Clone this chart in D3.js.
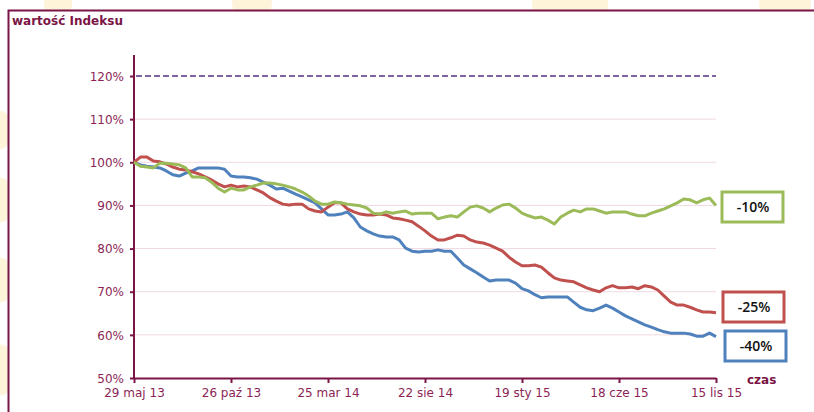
<!DOCTYPE html>
<html>
<head>
<meta charset="utf-8">
<script src="https://cdn.jsdelivr.net/npm/d3@7"></script>
<style>
  body { margin: 0; background: #fff; }
  svg { display: block; }
</style>
</head>
<body>
<svg width="814" height="412"></svg>
<script>
// start date and step of the series (days)
var startDate = new Date(2013, 4, 29),
    stepDays = 10;

var tickLabels = ["29 maj 13", "26 paź 13", "25 mar 14", "22 sie 14", "19 sty 15", "18 cze 15", "15 lis 15"];
var tickDays = [0, 150, 300, 450, 600, 750, 900];
var yTicks = [50, 60, 70, 80, 90, 100, 110, 120];

var redValues = [100.0, 101.2, 101.2, 100.3, 100.1, 99.6, 98.9, 98.4, 98.2, 97.8,
    97.3, 96.6, 95.9, 95.0, 94.3, 94.7, 94.3, 94.5, 94.3, 93.6,
    92.9, 91.8, 91.0, 90.3, 90.1, 90.3, 90.3, 89.2, 88.7, 88.5,
    89.6, 90.6, 90.6, 89.2, 88.5, 88.0, 87.8, 87.8, 88.0, 87.8,
    87.1, 86.9, 86.6, 86.2, 85.2, 84.1, 82.9, 82.0, 82.0, 82.5,
    83.1, 82.9, 82.0, 81.5, 81.3, 80.8, 80.1, 79.4, 78.0, 76.9,
    76.0, 76.0, 76.2, 75.7, 74.4, 73.2, 72.7, 72.5, 72.3, 71.6,
    70.9, 70.4, 70.0, 70.9, 71.4, 70.9, 70.9, 71.1, 70.7, 71.4,
    71.1, 70.4, 69.0, 67.6, 66.9, 66.9, 66.4, 65.8, 65.3, 65.3, 65.1];

var blueValues = [100.0, 99.4, 99.1, 98.9, 98.7, 98.0, 97.1, 96.8, 97.5, 98.0,
    98.7, 98.7, 98.7, 98.7, 98.4, 96.8, 96.6, 96.6, 96.4, 96.1,
    95.4, 94.7, 93.8, 94.0, 93.3, 92.6, 92.0, 91.3, 90.6, 89.2,
    87.8, 87.8, 88.0, 88.5, 87.1, 85.0, 84.1, 83.4, 82.9, 82.7,
    82.7, 82.0, 80.1, 79.4, 79.2, 79.4, 79.4, 79.7, 79.4, 79.4,
    77.8, 76.2, 75.3, 74.4, 73.4, 72.5, 72.7, 72.7, 72.7, 72.0,
    70.7, 70.2, 69.3, 68.6, 68.8, 68.8, 68.8, 68.8, 67.6, 66.4,
    65.8, 65.6, 66.2, 66.9, 66.2, 65.3, 64.4, 63.7, 63.0, 62.3,
    61.8, 61.2, 60.7, 60.4, 60.4, 60.4, 60.2, 59.7, 59.7, 60.4, 59.6];

var greenValues = [100.0, 99.1, 98.9, 98.7, 99.8, 99.8, 99.6, 99.4, 98.7, 96.6,
    96.6, 96.4, 95.4, 94.0, 93.1, 94.0, 93.6, 93.6, 94.3, 94.7,
    95.2, 95.2, 95.0, 94.7, 94.3, 93.8, 93.1, 92.2, 91.0, 90.3,
    90.3, 90.8, 90.6, 90.3, 90.1, 89.9, 89.4, 88.2, 88.0, 88.5,
    88.2, 88.5, 88.7, 88.0, 88.2, 88.2, 88.2, 86.9, 87.3, 87.6,
    87.3, 88.5, 89.6, 89.9, 89.4, 88.5, 89.4, 90.1, 90.3, 89.4,
    88.2, 87.6, 87.1, 87.3, 86.6, 85.7, 87.3, 88.2, 88.9, 88.5,
    89.2, 89.2, 88.7, 88.2, 88.5, 88.5, 88.5, 88.0, 87.6, 87.6,
    88.2, 88.7, 89.2, 89.9, 90.6, 91.5, 91.3, 90.6, 91.3, 91.7, 90.0];

var labelTexts = ["-10%", "-25%", "-40%"];
var seriesColors = ["#9bbb59", "#c0504d", "#4f81bd"];

var svg = d3.select("svg");
var dark = "#7b1546", tickColor = "#8c1f55";

// faint background blobs behind the frame
var blobs = [[58, 2, 14], [252, 0, 20], [570, 2, 38], [785, 0, 26], [0, 130, 12], [0, 200, 14], [0, 280, 14], [0, 370, 16]];
svg.selectAll("ellipse.blob").data(blobs).enter().append("ellipse")
    .attr("cx", function (d) { return d[0]; })
    .attr("cy", function (d) { return d[1]; })
    .attr("rx", function (d) { return d[2]; })
    .attr("ry", function (d) { return d[2] * 1.6; })
    .attr("fill", "#fef4da");

// frame
svg.append("rect")
    .attr("x", 8.5).attr("y", 10.5)
    .attr("width", 900).attr("height", 500)
    .attr("fill", "#fff")
    .attr("stroke", dark).attr("stroke-width", 2);

svg.append("text")
    .attr("x", 12).attr("y", 25)
    .attr("font-family", "DejaVu Sans").attr("font-size", 12).attr("font-weight", "bold")
    .attr("fill", dark)
    .text("wartość Indeksu");

var dates = redValues.map(function (v, i) { return d3.timeDay.offset(startDate, i * stepDays); });

var x = d3.scaleTime()
    .domain([startDate, d3.timeDay.offset(startDate, 900)])
    .range([134, 716]);

var y = d3.scaleLinear()
    .domain([50, 120])
    .range([378, 76]);

// gridlines
svg.selectAll("line.grid").data(yTicks.filter(function (t) { return t > 50 && t < 120; }))
    .enter().append("line")
    .attr("x1", 134).attr("x2", 716)
    .attr("y1", function (d) { return y(d); })
    .attr("y2", function (d) { return y(d); })
    .attr("stroke", "#f0d9e2").attr("stroke-width", 1);

// 120% dashed line
svg.append("line")
    .attr("x1", 136).attr("x2", 716)
    .attr("y1", y(120)).attr("y2", y(120))
    .attr("stroke", "#8064a2").attr("stroke-width", 2)
    .attr("stroke-dasharray", "6,3");

// y axis
var yAxis = svg.append("g")
    .attr("transform", "translate(134,0)")
    .call(d3.axisLeft(y).tickValues(yTicks).tickSize(4).tickSizeOuter(0)
        .tickFormat(function (d) { return d + "%"; }));
yAxis.select(".domain").attr("stroke", dark).attr("stroke-width", 2)
    .attr("d", "M0," + 378 + "V55");
yAxis.selectAll(".tick line").attr("stroke", dark).attr("stroke-width", 2);
yAxis.selectAll(".tick text")
    .attr("x", -10).attr("dy", "0.35em")
    .attr("font-family", "DejaVu Sans").attr("font-size", 12)
    .attr("fill", tickColor);

// x axis
var xAxis = svg.append("g")
    .attr("transform", "translate(0,378)")
    .call(d3.axisBottom(x)
        .tickValues(tickDays.map(function (d) { return d3.timeDay.offset(startDate, d); }))
        .tickSize(5).tickSizeOuter(0)
        .tickFormat(function (d, i) { return tickLabels[i]; }));
xAxis.select(".domain").attr("stroke", dark).attr("stroke-width", 2);
xAxis.selectAll(".tick line").attr("stroke", dark).attr("stroke-width", 2);
xAxis.selectAll(".tick text")
    .attr("y", 10).attr("dy", "0.71em")
    .attr("font-family", "DejaVu Sans").attr("font-size", 12)
    .attr("fill", tickColor);

svg.append("text")
    .attr("x", 747).attr("y", 384)
    .attr("font-family", "DejaVu Sans").attr("font-size", 12).attr("font-weight", "bold")
    .attr("fill", dark)
    .text("czas");

// lines
var line = d3.line()
    .x(function (d, i) { return x(dates[i]); })
    .y(function (d) { return y(d); });

svg.selectAll("path.series").data([blueValues, redValues, greenValues])
    .enter().append("path")
    .attr("class", "series")
    .attr("d", line)
    .attr("fill", "none")
    .attr("stroke", function (d, i) { return ["#4f81bd", "#c0504d", "#9bbb59"][i]; })
    .attr("stroke-width", 3)
    .attr("stroke-linejoin", "round");

// label boxes
var boxes = [[722, 192], [723, 292], [725, 331]];
var lbl = svg.selectAll("g.lbl").data(labelTexts).enter().append("g")
    .attr("transform", function (d, i) { return "translate(" + boxes[i][0] + "," + boxes[i][1] + ")"; });
lbl.append("rect")
    .attr("width", 61).attr("height", 30)
    .attr("fill", "#fff")
    .attr("stroke", function (d, i) { return seriesColors[i]; })
    .attr("stroke-width", 3);
lbl.append("text")
    .attr("x", 31).attr("y", 20)
    .attr("text-anchor", "middle")
    .attr("font-family", "Open Sans").attr("font-size", 14).attr("font-weight", 600)
    .attr("fill", "#111")
    .text(function (d) { return d; });
</script>
</body>
</html>
